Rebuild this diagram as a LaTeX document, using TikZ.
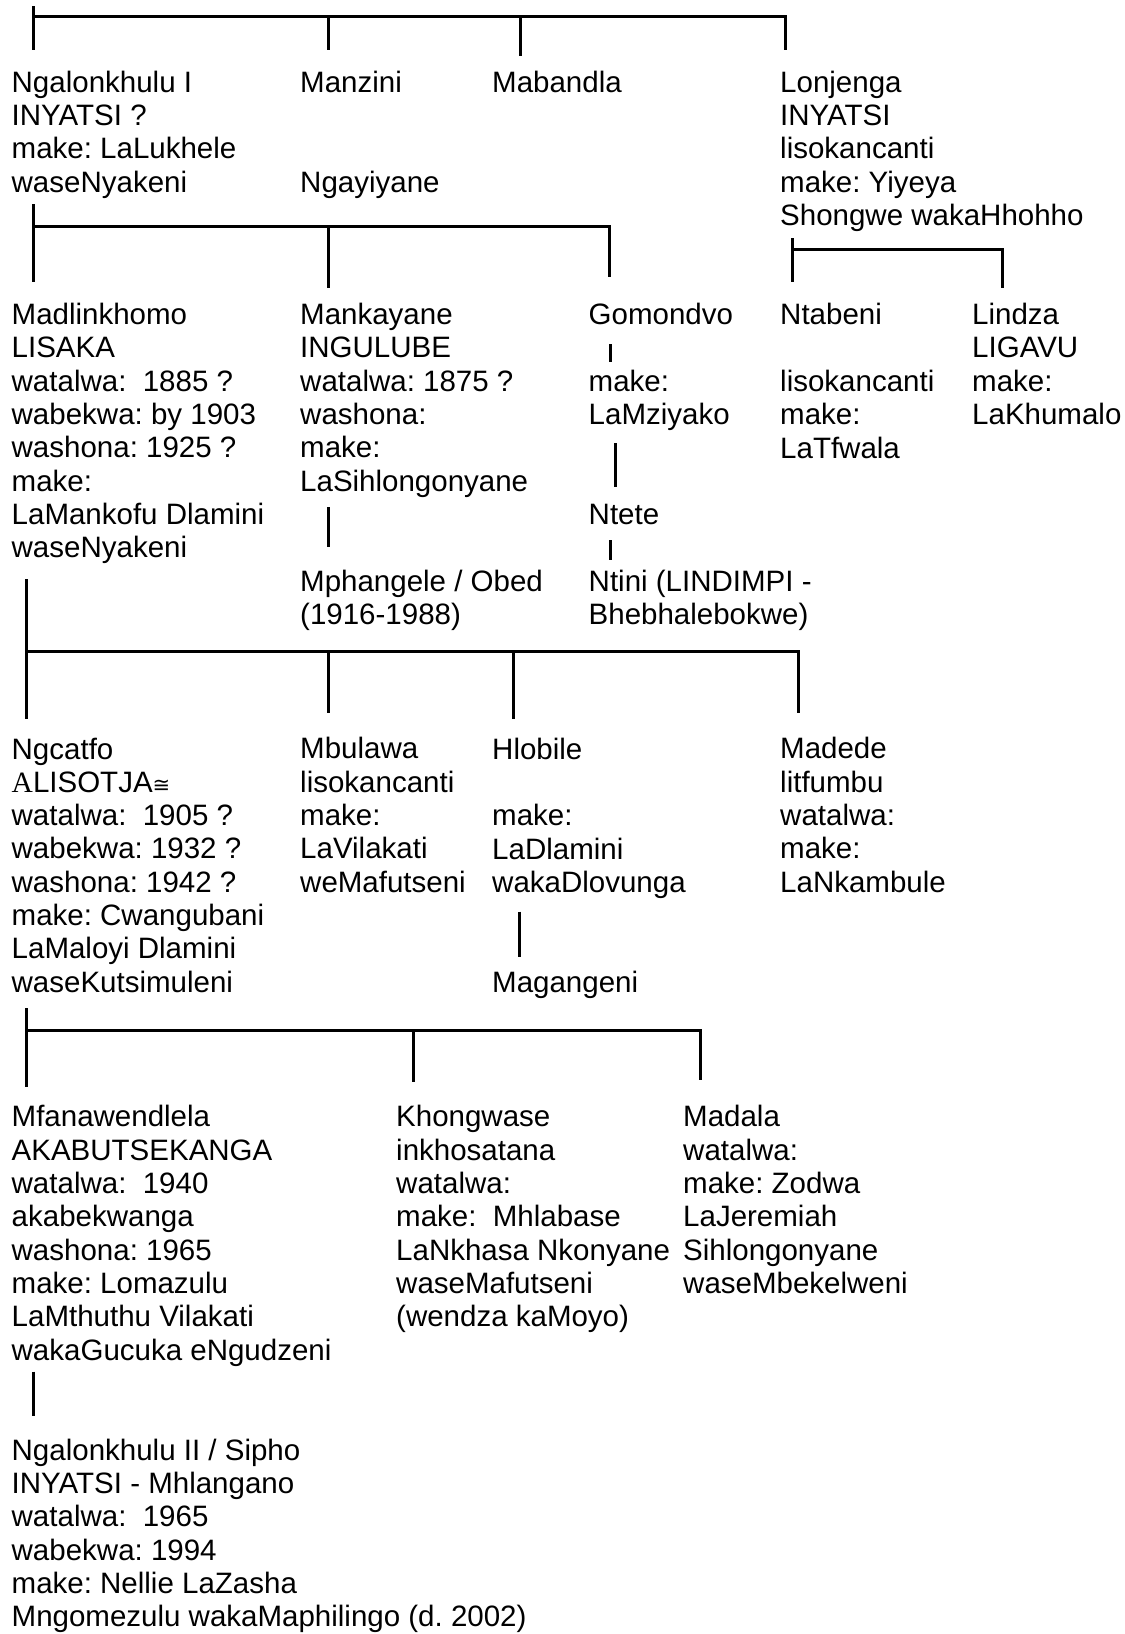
\documentclass[tikz,border=0pt]{standalone}
\usepackage{fontspec}
\setmainfont{Liberation Sans}
\newfontfamily\serifA{Liberation Serif}
\newfontfamily\dejavu{DejaVu Sans}
\frenchspacing
\begin{document}
\begin{tikzpicture}[x=1pt,y=-1pt,
  person/.style={anchor=base west, inner sep=0pt, align=left, font=\fontsize{29.5}{33.33}\selectfont\frenchspacing},
  conn/.style={line width=3pt, line join=miter, line cap=butt}]
\useasboundingbox[fill=white] (0,0) rectangle (1125,1634);
% node positions are the baseline of each block's LAST line
% ---------- row A ----------
\node[person] (ngalo1) at (11.5,192.3) {Ngalonkhulu I\\INYATSI ?\\make: LaLukhele\\waseNyakeni};
\node[person] (manzini) at (300,92.3) {Manzini};
\node[person] (ngayiyane) at (300,192.3) {Ngayiyane};
\node[person] (mabandla) at (492,92.3) {Mabandla};
\node[person] (lonjenga) at (780,225.6) {Lonjenga\\INYATSI\\lisokancanti\\make: Yiyeya\\Shongwe wakaHhohho};
% ---------- row B ----------
\node[person] (madlin) at (11.5,557.9) {Madlinkhomo\\LISAKA\\watalwa:\ \ 1885 ?\\wabekwa: by 1903\\washona: 1925 ?\\make:\\LaMankofu Dlamini\\waseNyakeni};
\node[person] (mankay) at (300,491.3) {Mankayane\\INGULUBE\\watalwa: 1875 ?\\washona:\\make:\\LaSihlongonyane};
\node[person] (mphang) at (300,624.6) {Mphangele / Obed\\(1916-1988)};
\node[person] (gomond) at (588.5,324.6) {Gomondvo};
\node[person] (gommake) at (588.5,424.6) {make:\\LaMziyako};
\node[person] (ntete) at (588.5,524.6) {Ntete};
\node[person] (ntini) at (588.5,624.6) {Ntini (LINDIMPI -\\Bhebhalebokwe)};
\node[person] (ntabeni) at (780,324.6) {Ntabeni};
\node[person] (ntabinfo) at (780,458) {lisokancanti\\make:\\LaTfwala};
\node[person] (lindza) at (972,424.6) {Lindza\\LIGAVU\\make:\\LaKhumalo};
% ---------- row C ----------
\node[person] (ngcatfo) at (11.5,992.3) {Ngcatfo\\{\serifA A}LISOTJA{\dejavu\fontsize{21}{21}\selectfont ≅}\\watalwa:\ \ 1905 ?\\wabekwa: 1932 ?\\washona: 1942 ?\\make: Cwangubani\\LaMaloyi Dlamini\\waseKutsimuleni};
\node[person] (mbulawa) at (300,892.3) {Mbulawa\\lisokancanti\\make:\\LaVilakati\\weMafutseni};
\node[person] (hlobile) at (492,759) {Hlobile};
\node[person] (hlobinfo) at (492,892.4) {make:\\LaDlamini\\wakaDlovunga};
\node[person] (magang) at (492,992.3) {Magangeni};
\node[person] (madede) at (780,892.3) {Madede\\litfumbu\\watalwa:\\make:\\LaNkambule};
% ---------- row D ----------
\node[person] (mfana) at (11.5,1360) {Mfanawendlela\\AKABUTSEKANGA\\watalwa:\ \ 1940\\akabekwanga\\washona: 1965\\make: Lomazulu\\LaMthuthu Vilakati\\wakaGucuka eNgudzeni};
\node[person] (khong) at (396,1326.7) {Khongwase\\inkhosatana\\watalwa:\\make:\ \ Mhlabase\\LaNkhasa Nkonyane\\waseMafutseni\\(wendza kaMoyo)};
\node[person] (madala) at (683,1293.4) {Madala\\watalwa:\\make: Zodwa\\LaJeremiah\\Sihlongonyane\\waseMbekelweni};
% ---------- row E ----------
\node[person] (ngalo2) at (11.5,1626.7) {Ngalonkhulu II / Sipho\\INYATSI - Mhlangano\\watalwa:\ \ 1965\\wabekwa: 1994\\make: Nellie LaZasha\\Mngomezulu wakaMaphilingo (d. 2002)};
% ---------- connector points ----------
% top bracket
\coordinate (a0t) at (33.3,6);   \coordinate (a0b) at (33.3,50);
\coordinate (ah0) at (33.3,16);  \coordinate (ah1) at (785.5,16);
\coordinate (a1b) at (785.5,50);
\coordinate (a2t) at (328,16);   \coordinate (a2b) at (328,50);
\coordinate (a3t) at (520,16);   \coordinate (a3b) at (520,56);
\draw[conn] (a0t) -- (a0b);
\draw[conn] (ah0) -- (ah1) -- (a1b);
\draw[conn] (a2t) -- (a2b);
\draw[conn] (a3t) -- (a3b);
% Ngalonkhulu I children
\coordinate (b0t) at (33.3,204); \coordinate (b0b) at (33.3,282);
\coordinate (bh0) at (33.3,226.7); \coordinate (bh1) at (609.4,226.7);
\coordinate (b1b) at (609.4,276.7);
\coordinate (b2t) at (328,226.7); \coordinate (b2b) at (328,288);
\draw[conn] (b0t) -- (b0b);
\draw[conn] (bh0) -- (bh1) -- (b1b);
\draw[conn] (b2t) -- (b2b);
% Lonjenga children
\coordinate (c0t) at (792.7,238); \coordinate (c0b) at (792.7,282);
\coordinate (ch0) at (792.7,249); \coordinate (ch1) at (1002,249);
\coordinate (c1b) at (1002,288);
\draw[conn] (c0t) -- (c0b);
\draw[conn] (ch0) -- (ch1) -- (c1b);
% single links
\coordinate (mk0) at (328,507); \coordinate (mk1) at (328,547);
\draw[conn] (mk0) -- (mk1);
\coordinate (g0) at (610,344); \coordinate (g1) at (610,362);
\draw[conn] (g0) -- (g1);
\coordinate (g2) at (615,443); \coordinate (g3) at (615,487);
\draw[conn] (g2) -- (g3);
\coordinate (g4) at (610,540); \coordinate (g5) at (610,560);
\draw[conn] (g4) -- (g5);
% Madlinkhomo children
\coordinate (d0t) at (26,579); \coordinate (d0b) at (26,719);
\coordinate (dh0) at (26,651.7); \coordinate (dh1) at (798,651.7);
\coordinate (d1b) at (798,712.7);
\coordinate (d2t) at (328,651.7); \coordinate (d2b) at (328,712.7);
\coordinate (d3t) at (513.5,651.7); \coordinate (d3b) at (513.5,719);
\draw[conn] (d0t) -- (d0b);
\draw[conn] (dh0) -- (dh1) -- (d1b);
\draw[conn] (d2t) -- (d2b);
\draw[conn] (d3t) -- (d3b);
\coordinate (h0) at (519,911.7); \coordinate (h1) at (519,957);
\draw[conn] (h0) -- (h1);
% Ngcatfo children
\coordinate (e0t) at (26,1008); \coordinate (e0b) at (26,1087);
\coordinate (eh0) at (26,1030.7); \coordinate (eh1) at (700,1030.7);
\coordinate (e1b) at (700,1080);
\coordinate (e2t) at (413.5,1030.7); \coordinate (e2b) at (413.5,1081.7);
\draw[conn] (e0t) -- (e0b);
\draw[conn] (eh0) -- (eh1) -- (e1b);
\draw[conn] (e2t) -- (e2b);
\coordinate (f0) at (33,1371.7); \coordinate (f1) at (33,1416);
\draw[conn] (f0) -- (f1);
\end{tikzpicture}
\end{document}
